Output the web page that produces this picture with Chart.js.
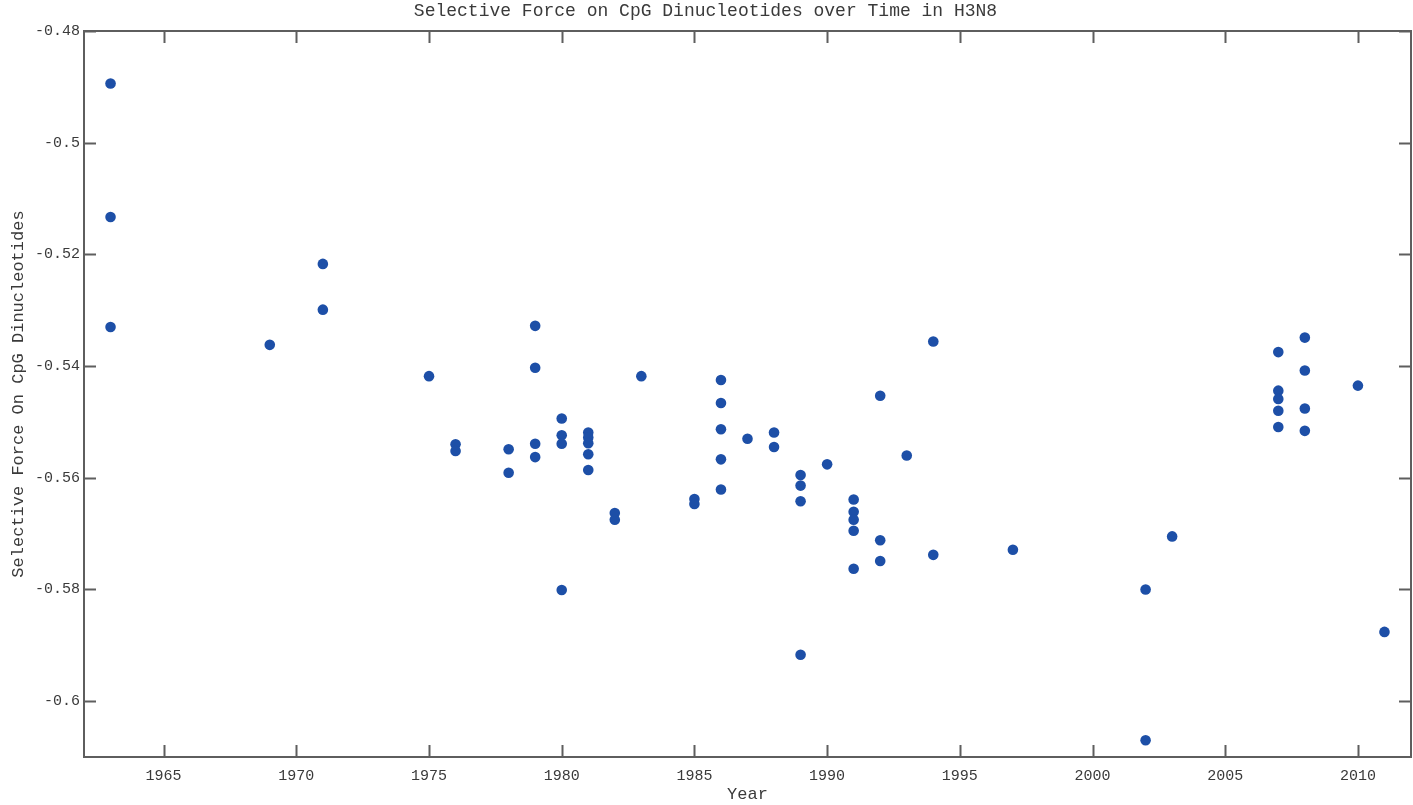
<!DOCTYPE html>
<html>
<head>
<meta charset="utf-8">
<script src="https://cdn.jsdelivr.net/npm/chart.js@4"></script>
<style>
  html, body { margin: 0; padding: 0; background: #fff; }
  #wrap { width: 1413px; height: 805px; }
</style>
</head>
<body>
<div id="wrap"><canvas id="cpgChart" width="1413" height="805"></canvas></div>
<script>
// years of each sample, and the matching selective force values
const years = [
    1963, 1963, 1963,
    1969,
    1971, 1971,
    1975,
    1976, 1976,
    1978, 1978,
    1979, 1979, 1979, 1979,
    1980, 1980, 1980, 1980,
    1981, 1981, 1981, 1981, 1981,
    1982, 1982,
    1983,
    1985, 1985,
    1986, 1986, 1986, 1986, 1986,
    1987,
    1988, 1988,
    1989, 1989, 1989, 1989,
    1990,
    1991, 1991, 1991, 1991, 1991,
    1992, 1992, 1992,
    1993,
    1994, 1994,
    1997,
    2002, 2002,
    2003,
    2007, 2007, 2007, 2007, 2007,
    2008, 2008, 2008, 2008,
    2010,
    2011
];
const forces = [
    -0.4894, -0.5133, -0.5330,
    -0.5362,
    -0.5217, -0.5299,
    -0.5418,
    -0.5540, -0.5552,
    -0.5549, -0.5591,
    -0.5328, -0.5403, -0.5539, -0.5563,
    -0.5494, -0.5524, -0.5539, -0.5801,
    -0.5519, -0.5528, -0.5538, -0.5558, -0.5586,
    -0.5663, -0.5675,
    -0.5418,
    -0.5638, -0.5647,
    -0.5425, -0.5466, -0.5513, -0.5567, -0.5621,
    -0.5530,
    -0.5519, -0.5545,
    -0.5595, -0.5614, -0.5642, -0.5917,
    -0.5576,
    -0.5639, -0.5661, -0.5675, -0.5695, -0.5763,
    -0.5453, -0.5712, -0.5749,
    -0.5560,
    -0.5356, -0.5738,
    -0.5729,
    -0.5800, -0.6070,
    -0.5705,
    -0.5375, -0.5444, -0.5459, -0.5480, -0.5509,
    -0.5349, -0.5408, -0.5476, -0.5516,
    -0.5435,
    -0.5876
];
const xTicks = [1965, 1970, 1975, 1980, 1985, 1990, 1995, 2000, 2005, 2010];
const yTicks = [-0.6, -0.58, -0.56, -0.54, -0.52, -0.5, -0.48];

const AXIS_COLOR = '#5e5e5e';
const TEXT_COLOR = '#3a3a3a';
const MONO = '"Liberation Mono", "DejaVu Sans Mono", monospace';

// box round the plot with ticks pointing inward on all four sides
const boxTicksPlugin = {
    id: 'boxTicks',
    afterDraw: (chart) => {
        const { ctx, chartArea: { left, right, top, bottom }, scales: { x, y } } = chart;
        const len = 12;
        ctx.save();
        ctx.strokeStyle = AXIS_COLOR;
        ctx.lineWidth = 2;
        ctx.strokeRect(left, top, right - left, bottom - top);
        ctx.beginPath();
        x.ticks.forEach(t => {
            const px = Math.round(x.getPixelForValue(t.value)) + 0.5;
            ctx.moveTo(px, bottom); ctx.lineTo(px, bottom - len);
            ctx.moveTo(px, top); ctx.lineTo(px, top + len);
        });
        y.ticks.forEach(t => {
            const py = Math.round(y.getPixelForValue(t.value)) + 0.5;
            ctx.moveTo(left, py); ctx.lineTo(left + len, py);
            ctx.moveTo(right, py); ctx.lineTo(right - len, py);
        });
        ctx.stroke();
        ctx.restore();
    }
};

new Chart(document.getElementById('cpgChart').getContext('2d'), {
    type: 'scatter',
    data: {
        datasets: [{
            label: 'CpG',
            data: years.map((yr, i) => ({ x: yr, y: forces[i] })),
            backgroundColor: '#1d4fa7',
            borderColor: '#1d4fa7',
            borderWidth: 0,
            pointRadius: 5.3,
            pointHoverRadius: 5.3
        }]
    },
    options: {
        responsive: false,
        animation: false,
        layout: { autoPadding: false, padding: { top: 0, right: 2, bottom: 0, left: 0 } },
        plugins: {
            legend: { display: false },
            tooltip: { enabled: false },
            title: {
                display: true,
                text: 'Selective Force on CpG Dinucleotides over Time in H3N8',
                color: TEXT_COLOR,
                font: { family: MONO, size: 18, weight: 'normal', lineHeight: 1 },
                padding: { top: 2, bottom: 11 }
            }
        },
        scales: {
            x: {
                type: 'linear',
                min: 1962,
                max: 2012,
                afterBuildTicks: (scale) => { scale.ticks = xTicks.map(v => ({ value: v })); },
                afterFit: (scale) => { scale.height = 48; },
                grid: { display: false, drawTicks: false },
                border: { display: false },
                ticks: {
                    color: TEXT_COLOR,
                    font: { family: MONO, size: 15 },
                    padding: 10,
                    maxRotation: 0,
                    callback: (v) => String(v)
                },
                title: {
                    display: true,
                    text: 'Year',
                    color: TEXT_COLOR,
                    font: { family: MONO, size: 17, lineHeight: 1.2 },
                    padding: 0
                }
            },
            y: {
                type: 'linear',
                min: -0.61,
                max: -0.48,
                afterBuildTicks: (scale) => { scale.ticks = yTicks.map(v => ({ value: v })); },
                afterFit: (scale) => { scale.width = 84; },
                grid: { display: false, drawTicks: false },
                border: { display: false },
                ticks: {
                    color: TEXT_COLOR,
                    font: { family: MONO, size: 15 },
                    padding: 4,
                    callback: (v) => String(Math.round(v * 100) / 100)
                },
                title: {
                    display: true,
                    text: 'Selective Force On CpG Dinucleotides',
                    color: TEXT_COLOR,
                    font: { family: MONO, size: 17, lineHeight: 1.2 },
                    padding: { top: 8, bottom: 0 }
                }
            }
        }
    },
    plugins: [boxTicksPlugin]
});
</script>
</body>
</html>
